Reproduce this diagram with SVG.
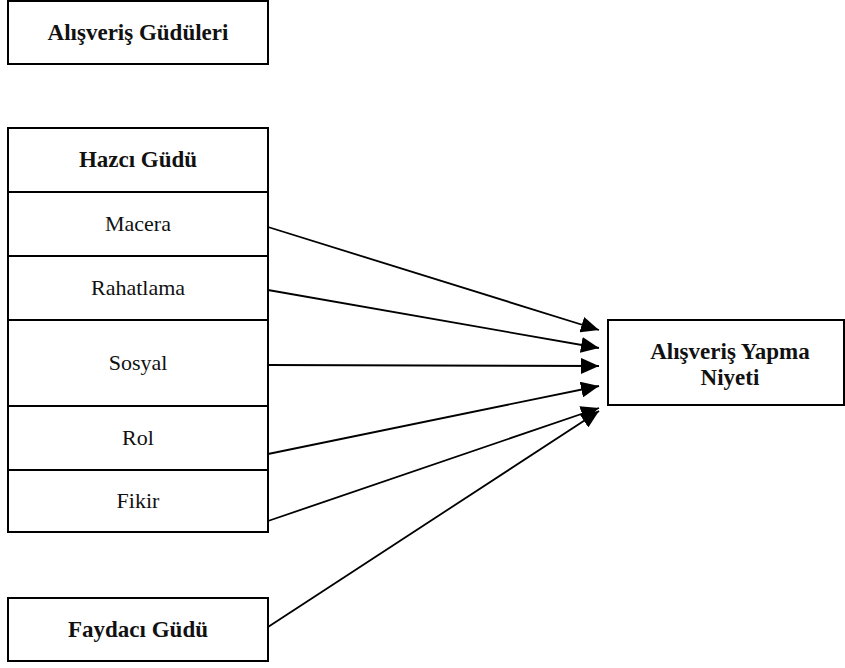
<svg xmlns="http://www.w3.org/2000/svg" width="845" height="668" viewBox="0 0 845 668">
<style>
.box{fill:#fff;stroke:#000;stroke-width:2}
.t{font-family:"Liberation Serif","Times New Roman",serif;font-size:22px;fill:#111;text-anchor:middle}
.b{font-weight:bold;font-size:23px}
.c{stroke:#000;stroke-width:1.8;fill:none;marker-end:url(#ah)}
</style>
<defs>
<marker id="ah" markerUnits="userSpaceOnUse" markerWidth="20" markerHeight="16" refX="18" refY="8" orient="auto">
<path d="M0,0 L18,8 L0,16 Z" fill="#000"/>
</marker>
</defs>
<rect width="845" height="668" fill="#fff"/>
<g id="alisveris-guduleri">
<rect class="box" x="8" y="1" width="260" height="63"/>
<text class="t b" x="138" y="40">Alışveriş Güdüleri</text>
</g>
<g id="hazci-gudu">
<rect class="box" x="8" y="128" width="260" height="64"/>
<text class="t b" x="138" y="167">Hazcı Güdü</text>
</g>
<g id="macera">
<rect class="box" x="8" y="192" width="260" height="64"/>
<text class="t" x="138" y="231">Macera</text>
</g>
<g id="rahatlama">
<rect class="box" x="8" y="256" width="260" height="64"/>
<text class="t" x="138" y="295">Rahatlama</text>
</g>
<g id="sosyal">
<rect class="box" x="8" y="320" width="260" height="86"/>
<text class="t" x="138" y="370">Sosyal</text>
</g>
<g id="rol">
<rect class="box" x="8" y="406" width="260" height="64"/>
<text class="t" x="138" y="445">Rol</text>
</g>
<g id="fikir">
<rect class="box" x="8" y="470" width="260" height="62"/>
<text class="t" x="138" y="508">Fikir</text>
</g>
<g id="faydaci-gudu">
<rect class="box" x="8" y="598" width="260" height="63"/>
<text class="t b" x="138" y="637">Faydacı Güdü</text>
</g>
<g id="alisveris-yapma-niyeti">
<rect class="box" x="608" y="320" width="236" height="85"/>
<text class="t b" x="730" y="359">Alışveriş Yapma</text>
<text class="t b" x="730" y="385">Niyeti</text>
</g>
<g id="connectors">
<line class="c" x1="268" y1="227" x2="599" y2="330"/>
<line class="c" x1="268" y1="290" x2="599" y2="348"/>
<line class="c" x1="268" y1="365" x2="599" y2="366"/>
<line class="c" x1="268" y1="454" x2="599" y2="386"/>
<line class="c" x1="268" y1="521" x2="599" y2="408"/>
<line class="c" x1="268" y1="627" x2="599" y2="411"/>
</g>
</svg>
